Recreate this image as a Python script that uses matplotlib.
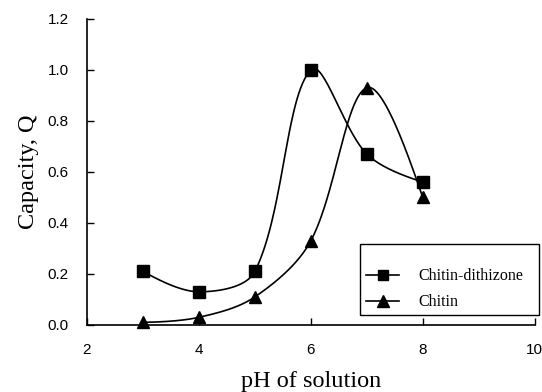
import numpy as np
import matplotlib
matplotlib.use("Agg")
from matplotlib import pyplot as plt
from matplotlib.lines import Line2D
from matplotlib.patches import Rectangle

# pH values and sorption capacity
ph = [3, 4, 5, 6, 7, 8]
q_dithizone = [0.21, 0.13, 0.21, 1.00, 0.67, 0.56]
q_chitin = [0.01, 0.03, 0.11, 0.33, 0.93, 0.50]

x_ticks = [2, 4, 6, 8, 10]
y_ticks = [0.0, 0.2, 0.4, 0.6, 0.8, 1.0, 1.2]

# pixels per data unit on screen, used to weight the tangents
SX, SY = 56.0, 255.0


def smooth(xs, ys, n=60):
    # smoothed line like a spreadsheet: cubic bezier, tangent from the
    # neighbours, split by the on-screen length of each segment
    xs = np.asarray(xs, float)
    ys = np.asarray(ys, float)
    m = len(xs)
    d = np.hypot(np.diff(xs) * SX, np.diff(ys) * SY)
    cin = np.zeros((m, 2))
    cout = np.zeros((m, 2))
    for i in range(m):
        p = np.array([xs[i], ys[i]])
        if i == 0 or i == m - 1:
            cin[i] = p
            cout[i] = p
            continue
        tang = np.array([xs[i + 1] - xs[i - 1], ys[i + 1] - ys[i - 1]])
        tot = d[i - 1] + d[i]
        cin[i] = p - tang * d[i - 1] / tot / 3.0
        cout[i] = p + tang * d[i] / tot / 3.0
    # first and last segments: control toward neighbour control
    cout[0] = np.array([xs[0], ys[0]]) + (cin[1] - np.array([xs[0], ys[0]])) / 3.0
    cin[-1] = np.array([xs[-1], ys[-1]]) + (cout[-2] - np.array([xs[-1], ys[-1]])) / 3.0
    t = np.linspace(0, 1, n)[:, None]
    pts = []
    for i in range(m - 1):
        p0 = np.array([xs[i], ys[i]])
        p3 = np.array([xs[i + 1], ys[i + 1]])
        b = (1-t)**3*p0 + 3*(1-t)**2*t*cout[i] + 3*(1-t)*t**2*cin[i + 1] + t**3*p3
        pts.append(b)
    pts = np.vstack(pts)
    return pts[:, 0], pts[:, 1]


fig = plt.figure(figsize=(5.42, 3.92), dpi=100)
ax = fig.add_axes([0.1605, 0.171, 0.826, 0.781])

sx, sy = smooth(ph, q_dithizone)
ax.plot(sx, sy, color='black', lw=1.2, clip_on=False)
ax.plot(ph, q_dithizone, ls='none', marker='s', ms=8.5, color='black', clip_on=False, zorder=3)
sx, sy = smooth(ph, q_chitin)
ax.plot(sx, sy, color='black', lw=1.2, clip_on=False)
ax.plot(ph, q_chitin, ls='none', marker='^', ms=8.5, color='black', clip_on=False, zorder=3)

ax.set_xlim(2, 10)
ax.set_ylim(0, 1.2)
ax.set_xticks(x_ticks)
ax.set_yticks(y_ticks)
ax.set_xticklabels([str(v) for v in x_ticks])
ax.set_yticklabels(['%.1f' % v for v in y_ticks])
ax.tick_params(direction='in', length=5, width=1, colors='black', labelsize=11, pad=13)
for lbl in ax.get_xticklabels() + ax.get_yticklabels():
    lbl.set_family('Liberation Sans')
ax.spines['top'].set_visible(False)
ax.spines['right'].set_visible(False)
ax.spines['left'].set_linewidth(1.2)
ax.spines['bottom'].set_linewidth(1.2)

ax.set_xlabel('pH of solution', family='Liberation Serif', fontsize=17.5, labelpad=10)
ax.set_ylabel('Capacity, Q', family='Liberation Serif', fontsize=17.5, labelpad=6)

# legend box, drawn separately so the extra space at its top matches
fig.add_artist(Rectangle((0.665, 0.1965), 0.330, 0.1815, transform=fig.transFigure,
                         fill=False, edgecolor='black', lw=1.0))
handles = [Line2D([], [], color='black', lw=1.2, marker='s', ms=6.5),
           Line2D([], [], color='black', lw=1.2, marker='^', ms=8)]
leg = fig.legend(handles, ['Chitin-dithizone', 'Chitin'],
                 loc='center left', bbox_to_anchor=(0.675, 0.262),
                 prop={'family': 'Liberation Serif', 'size': 11.5},
                 frameon=False, handlelength=2.1, handletextpad=1.2,
                 labelspacing=0.62, borderpad=0, borderaxespad=0)

fig.savefig('out.png', dpi=100)
